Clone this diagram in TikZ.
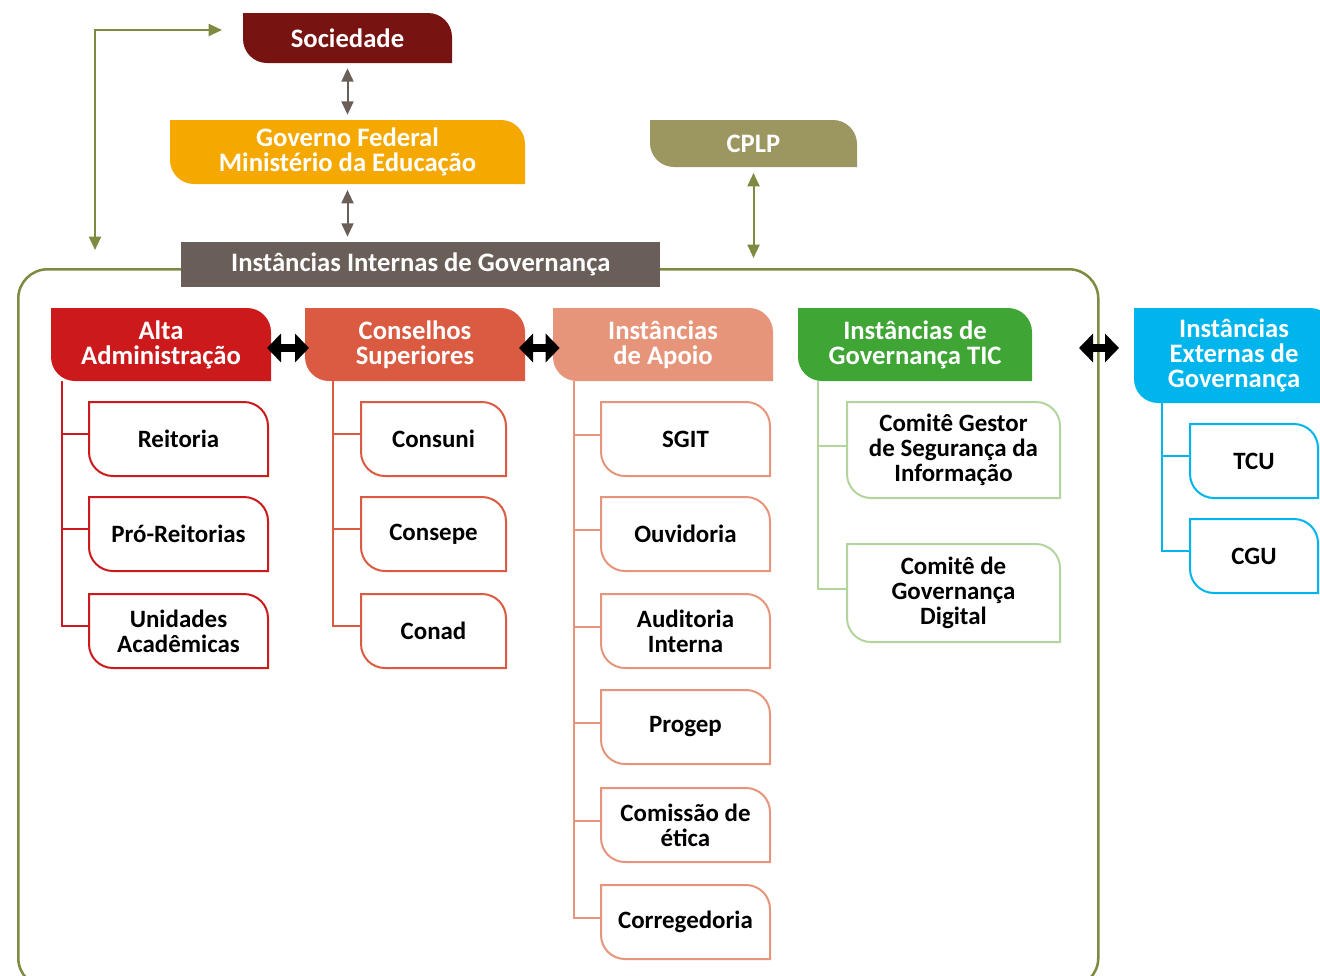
\documentclass[tikz,border=0pt]{standalone}
\usepackage{fontspec}
\setmainfont{Carlito}
\usetikzlibrary{arrows.meta}
\definecolor{socc}{HTML}{771411}
\definecolor{govc}{HTML}{F5A800}
\definecolor{cplpc}{HTML}{9C9660}
\definecolor{intc}{HTML}{6A5E59}
\definecolor{altac}{HTML}{CC1A1C}
\definecolor{consc}{HTML}{DA5B42}
\definecolor{apoc}{HTML}{E7957A}
\definecolor{ticc}{HTML}{3FA535}
\definecolor{ticl}{HTML}{B3D59D}
\definecolor{extc}{HTML}{00B5EB}
\definecolor{olivec}{HTML}{7F8A40}
\newlength\boxrad
\setlength\boxrad{18pt}
\newcommand\gbox[8]{%
  \node[inner sep=0pt, outer sep=0pt, minimum width=#4*0.75pt, minimum height=#5*0.75pt, anchor=north west] (#1) at (#2,#3) {};
  \path[#6] (#1.north west) -- ([xshift=-\boxrad]#1.north east) arc[start angle=90,end angle=0,radius=\boxrad] -- (#1.south east) -- ([xshift=\boxrad]#1.south west) arc[start angle=270,end angle=180,radius=\boxrad] -- cycle;
  \node[#7] (#1-t) at (#1.center) {#8};
}
\tikzset{
  htext/.style={text=white, font=\bfseries\fontsize{20}{18.75}\selectfont, align=center, inner sep=0pt},
  ctext/.style={text=black, font=\bfseries\fontsize{18.7}{18.75}\selectfont, align=center, inner sep=0pt},
  cbox/.style={draw=#1, line width=1.5pt, fill=white},
  tree/.style={draw=#1, line width=1.5pt},
  grayarr/.style={draw=intc, line width=1.5pt, {Triangle[length=10pt,width=9pt]}-{Triangle[length=10pt,width=9pt]}},
  olivearr/.style={draw=olivec, line width=1.5pt, {Triangle[length=10pt,width=9pt]}-{Triangle[length=10pt,width=9pt]}},
  fatarr/.style={draw=black, line width=6.5pt, {Triangle[length=10.5pt,width=21pt]}-{Triangle[length=10.5pt,width=21pt]}},
}
\begin{document}
\begin{tikzpicture}[x=0.75pt,y=-0.75pt]
\useasboundingbox (0,0) rectangle (1320,975);
\clip (0,0) rectangle (1320,975);
% frame
\node[draw=olivec, line width=1.9pt, rounded corners=22pt, minimum width=1080*0.75pt, minimum height=718*0.75pt, anchor=north west, inner sep=0pt] (frame) at (17,268) {};
% top boxes
\gbox{soc}{243}{13}{209}{50}{fill=socc}{htext}{Sociedade}
\gbox{gov}{170}{120}{355}{64}{fill=govc}{htext}{Governo Federal\\Ministério da Educação}
\gbox{cplp}{650}{120}{207}{47}{fill=cplpc}{htext}{CPLP}
\node[fill=intc, inner sep=0pt, minimum width=479*0.75pt, minimum height=45*0.75pt, anchor=north west, htext] (int) at (181,242) {Instâncias Internas de Governança};
% top arrows
\draw[grayarr, shorten <=4pt, shorten >=4pt] (soc.south) -- (soc.south |- gov.north);
\draw[grayarr, shorten <=4.5pt, shorten >=4pt] (gov.south) -- (gov.south |- int.north);
\draw[olivearr, shorten <=4.5pt, shorten >=7.5pt] (cplp.south) -- (cplp.south |- frame.north);
\coordinate (ol) at (95,250);
\draw[olivearr] (ol) |- ([xshift=-15.75pt,yshift=6pt]soc.west);
% headers
\gbox{alta}{51}{308}{220}{73}{fill=altac}{htext}{Alta\\Administração}
\gbox{cons}{305}{308}{220}{73}{fill=consc}{htext}{Conselhos\\Superiores}
\gbox{apo}{553}{308}{220}{73}{fill=apoc}{htext}{Instâncias\\de Apoio}
\gbox{tic}{798}{308}{234}{73}{fill=ticc}{htext}{Instâncias de\\Governança TIC}
\gbox{ext}{1134}{308}{200}{95}{fill=extc}{htext}{Instâncias\\Externas de\\Governança}
% fat arrows
\draw[fatarr, shorten <=-3pt, shorten >=-3pt] ([yshift=-2.6pt]alta.east) -- ([yshift=-2.6pt]alta.east -| cons.west);
\draw[fatarr, shorten <=-4.5pt, shorten >=-5pt] ([yshift=-2.6pt]cons.east) -- ([yshift=-2.6pt]cons.east -| apo.west);
\draw[fatarr, shorten <=35.25pt, shorten >=11.25pt] ([yshift=-2.6pt]tic.east) -- ([yshift=-2.6pt]tic.east -| ext.west);
% children
\gbox{reit}{89}{402}{179}{74}{cbox=altac}{ctext}{Reitoria}
\gbox{pro}{89}{497}{179}{74}{cbox=altac}{ctext}{Pró-Reitorias}
\gbox{unid}{89}{594}{179}{74}{cbox=altac}{ctext}{Unidades\\Acadêmicas}
\gbox{consuni}{361}{402}{145}{74}{cbox=consc}{ctext}{Consuni}
\gbox{consepe}{361}{497}{145}{74}{cbox=consc}{ctext}{Consepe}
\gbox{conad}{361}{594}{145}{74}{cbox=consc}{ctext}{Conad}
\gbox{sgit}{601}{402}{169}{74}{cbox=apoc}{ctext}{SGIT}
\gbox{ouv}{601}{497}{169}{74}{cbox=apoc}{ctext}{Ouvidoria}
\gbox{aud}{601}{594}{169}{74}{cbox=apoc}{ctext}{Auditoria\\Interna}
\gbox{progep}{601}{690}{169}{74}{cbox=apoc}{ctext}{Progep}
\gbox{com}{601}{788}{169}{74}{cbox=apoc}{ctext}{Comissão de\\ética}
\gbox{corr}{601}{885}{169}{74}{cbox=apoc}{ctext}{Corregedoria}
\gbox{cgsi}{847}{402}{213}{96}{cbox=ticl}{ctext}{Comitê Gestor\\de Segurança da\\Informação}
\gbox{cgd}{847}{544}{213}{98}{cbox=ticl}{ctext}{Comitê de\\Governança\\Digital}
\gbox{tcu}{1190}{424}{128}{74}{cbox=extc}{ctext}{TCU}
\gbox{cgu}{1190}{519}{128}{74}{cbox=extc}{ctext}{CGU}
% trees
\foreach \c in {reit,pro,unid}
  \draw[tree=altac] ([xshift=8.25pt]alta.south west) |- ([yshift=4pt]\c.west);
\foreach \c in {consuni,consepe,conad}
  \draw[tree=consc] ([xshift=21pt]cons.south west) |- ([yshift=4pt]\c.west);
\foreach \c in {sgit,ouv,aud,progep,com,corr}
  \draw[tree=apoc] ([xshift=15.75pt]apo.south west) |- ([yshift=3pt]\c.west);
\foreach \c in {cgsi,cgd}
  \draw[tree=ticl] ([xshift=15pt]tic.south west) |- ([yshift=3pt]\c.west);
\foreach \c in {tcu,cgu}
  \draw[tree=extc] ([xshift=21pt]ext.south west) |- ([yshift=4pt]\c.west);
\end{tikzpicture}
\end{document}
